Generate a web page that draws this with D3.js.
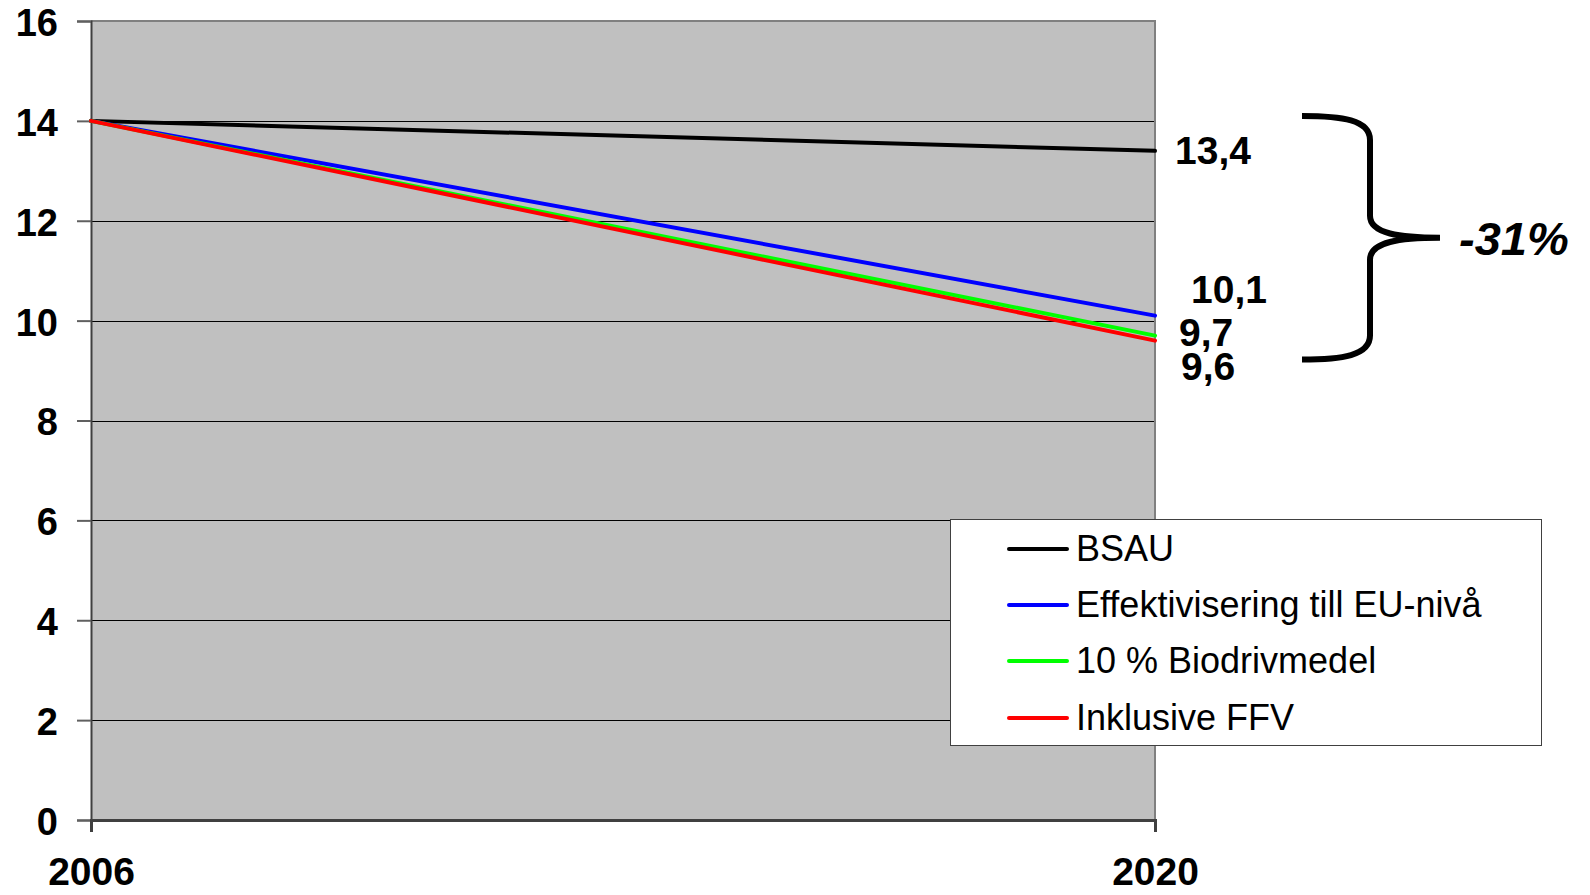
<!DOCTYPE html>
<html>
<head>
<meta charset="utf-8">
<script src="https://cdn.jsdelivr.net/npm/d3@7"></script>
<style>
  html, body { margin: 0; padding: 0; background: #fff; }
  svg { display: block; font-family: "Liberation Sans", Arial, sans-serif; }
</style>
</head>
<body>
<svg id="chart" width="1590" height="895"></svg>
<script>
// Years on the x axis
const years = [2006, 2020];

// Scenario series
const seriesNames = ["BSAU", "Effektivisering till EU-nivå", "10 % Biodrivmedel", "Inklusive FFV"];
const bsau = [14, 13.4];
const effektivisering = [14, 10.1];
const biodrivmedel = [14, 9.7];
const inklusiveFFV = [14, 9.6];

// End-value labels
const endLabels = ["13,4", "10,1", "9,7", "9,6"];
const changeLabel = "-31%";

// Axis ticks
const yTicks = [0, 2, 4, 6, 8, 10, 12, 14, 16];
const xTickLabels = ["2006", "2020"];

// Styling
const colors = ["#000000", "#0000ff", "#00ff00", "#ff0000"];
const labelOffsets = [[20, 13], [36, -13], [24, 10], [26, 39]];

const svg = d3.select("#chart");
const m = { left: 91, right: 1155, top: 21, bottom: 820 };

const x = d3.scaleLinear().domain([2006, 2020]).range([m.left, m.right]);
const y = d3.scaleLinear().domain([0, 16]).range([m.bottom, m.top]);

// Plot background
svg.append("rect")
  .attr("x", m.left).attr("y", m.top)
  .attr("width", m.right - m.left).attr("height", m.bottom - m.top)
  .attr("fill", "#c0c0c0");

// Gridlines
svg.append("g")
  .selectAll("line")
  .data(yTicks.filter(d => d > 0 && d < 16))
  .join("line")
  .attr("x1", m.left).attr("x2", m.right)
  .attr("y1", d => Math.round(y(d)) + 0.5).attr("y2", d => Math.round(y(d)) + 0.5)
  .attr("stroke", "#000").attr("stroke-width", 1);

// Top and right frame
svg.append("path")
  .attr("d", `M${m.left},${m.top}H${m.right}V${m.bottom}`)
  .attr("fill", "none").attr("stroke", "#808080").attr("stroke-width", 2);

// Y axis
const yAxis = svg.append("g")
  .attr("transform", `translate(${m.left},0)`)
  .call(d3.axisLeft(y).tickValues(yTicks).tickSize(14).tickPadding(19).tickFormat(d3.format("d")));
yAxis.select(".domain").attr("stroke", "#404040").attr("stroke-width", 2);
yAxis.selectAll(".tick line").attr("stroke", "#606060").attr("stroke-width", 2);
yAxis.selectAll(".tick text")
  .attr("font-size", 38).attr("font-weight", "bold").attr("fill", "#000")
  .attr("dy", "0.38em")
  .attr("font-family", "Liberation Sans, Arial, sans-serif");

// X axis
const xAxis = svg.append("g")
  .attr("transform", `translate(0,${m.bottom})`)
  .call(d3.axisBottom(x).tickValues(years).tickSize(12).tickPadding(25).tickFormat((d, i) => xTickLabels[i]));
xAxis.select(".domain").attr("stroke", "#404040").attr("stroke-width", 3);
xAxis.selectAll(".tick line").attr("stroke", "#404040").attr("stroke-width", 1);
xAxis.selectAll(".tick text")
  .attr("font-size", 39).attr("font-weight", "bold").attr("fill", "#000")
  .attr("font-family", "Liberation Sans, Arial, sans-serif");

// Scenario lines
const allSeries = [bsau, effektivisering, biodrivmedel, inklusiveFFV];
const line = d3.line().x((d, i) => x(years[i])).y(d => y(d));
svg.append("g")
  .selectAll("path")
  .data(allSeries)
  .join("path")
  .attr("d", d => line(d))
  .attr("fill", "none")
  .attr("stroke", (d, i) => colors[i])
  .attr("stroke-width", 4)
  .attr("stroke-linecap", "round");

// End-value labels
svg.append("g")
  .selectAll("text")
  .data(allSeries)
  .join("text")
  .attr("x", (d, i) => x(years[1]) + labelOffsets[i][0])
  .attr("y", (d, i) => y(d[1]) + labelOffsets[i][1])
  .attr("font-size", 39).attr("font-weight", "bold")
  .text((d, i) => endLabels[i]);

// Brace spanning the range of 2020 values
const bTop = y(14.1), bBot = y(9.22), bMid = (bTop + bBot) / 2;
const bx0 = 1302, bx1 = 1370, bTip = 1440;
svg.append("path")
  .attr("d", `M${bx0},${bTop} C${bx0 + 40},${bTop} ${bx1},${bTop + 4} ${bx1},${bTop + 24}
    L${bx1},${bMid - 22} C${bx1},${bMid - 4} ${bx1 + 30},${bMid} ${bTip},${bMid}
    C${bx1 + 30},${bMid} ${bx1},${bMid + 4} ${bx1},${bMid + 22}
    L${bx1},${bBot - 24} C${bx1},${bBot - 4} ${bx0 + 40},${bBot} ${bx0},${bBot}`)
  .attr("fill", "none").attr("stroke", "#000").attr("stroke-width", 6);

svg.append("text")
  .attr("x", 1459).attr("y", bMid + 17)
  .attr("font-size", 47).attr("font-weight", "bold").attr("font-style", "italic")
  .text(changeLabel);

// Legend
const lg = svg.append("g");
lg.append("rect")
  .attr("x", 950.5).attr("y", 519.5).attr("width", 591).attr("height", 226)
  .attr("fill", "#fff").attr("stroke", "#404040").attr("stroke-width", 1);
const rowY = [549, 605, 661, 718];
const items = lg.selectAll("g.item")
  .data(seriesNames)
  .join("g").attr("class", "item")
  .attr("transform", (d, i) => `translate(0,${rowY[i]})`);
items.append("line")
  .attr("x1", 1009).attr("x2", 1067).attr("y1", 0).attr("y2", 0)
  .attr("stroke", (d, i) => colors[i]).attr("stroke-width", 4).attr("stroke-linecap", "round");
items.append("text")
  .attr("x", 1076).attr("y", 12)
  .attr("font-size", 36)
  .text(d => d);
</script>
</body>
</html>
